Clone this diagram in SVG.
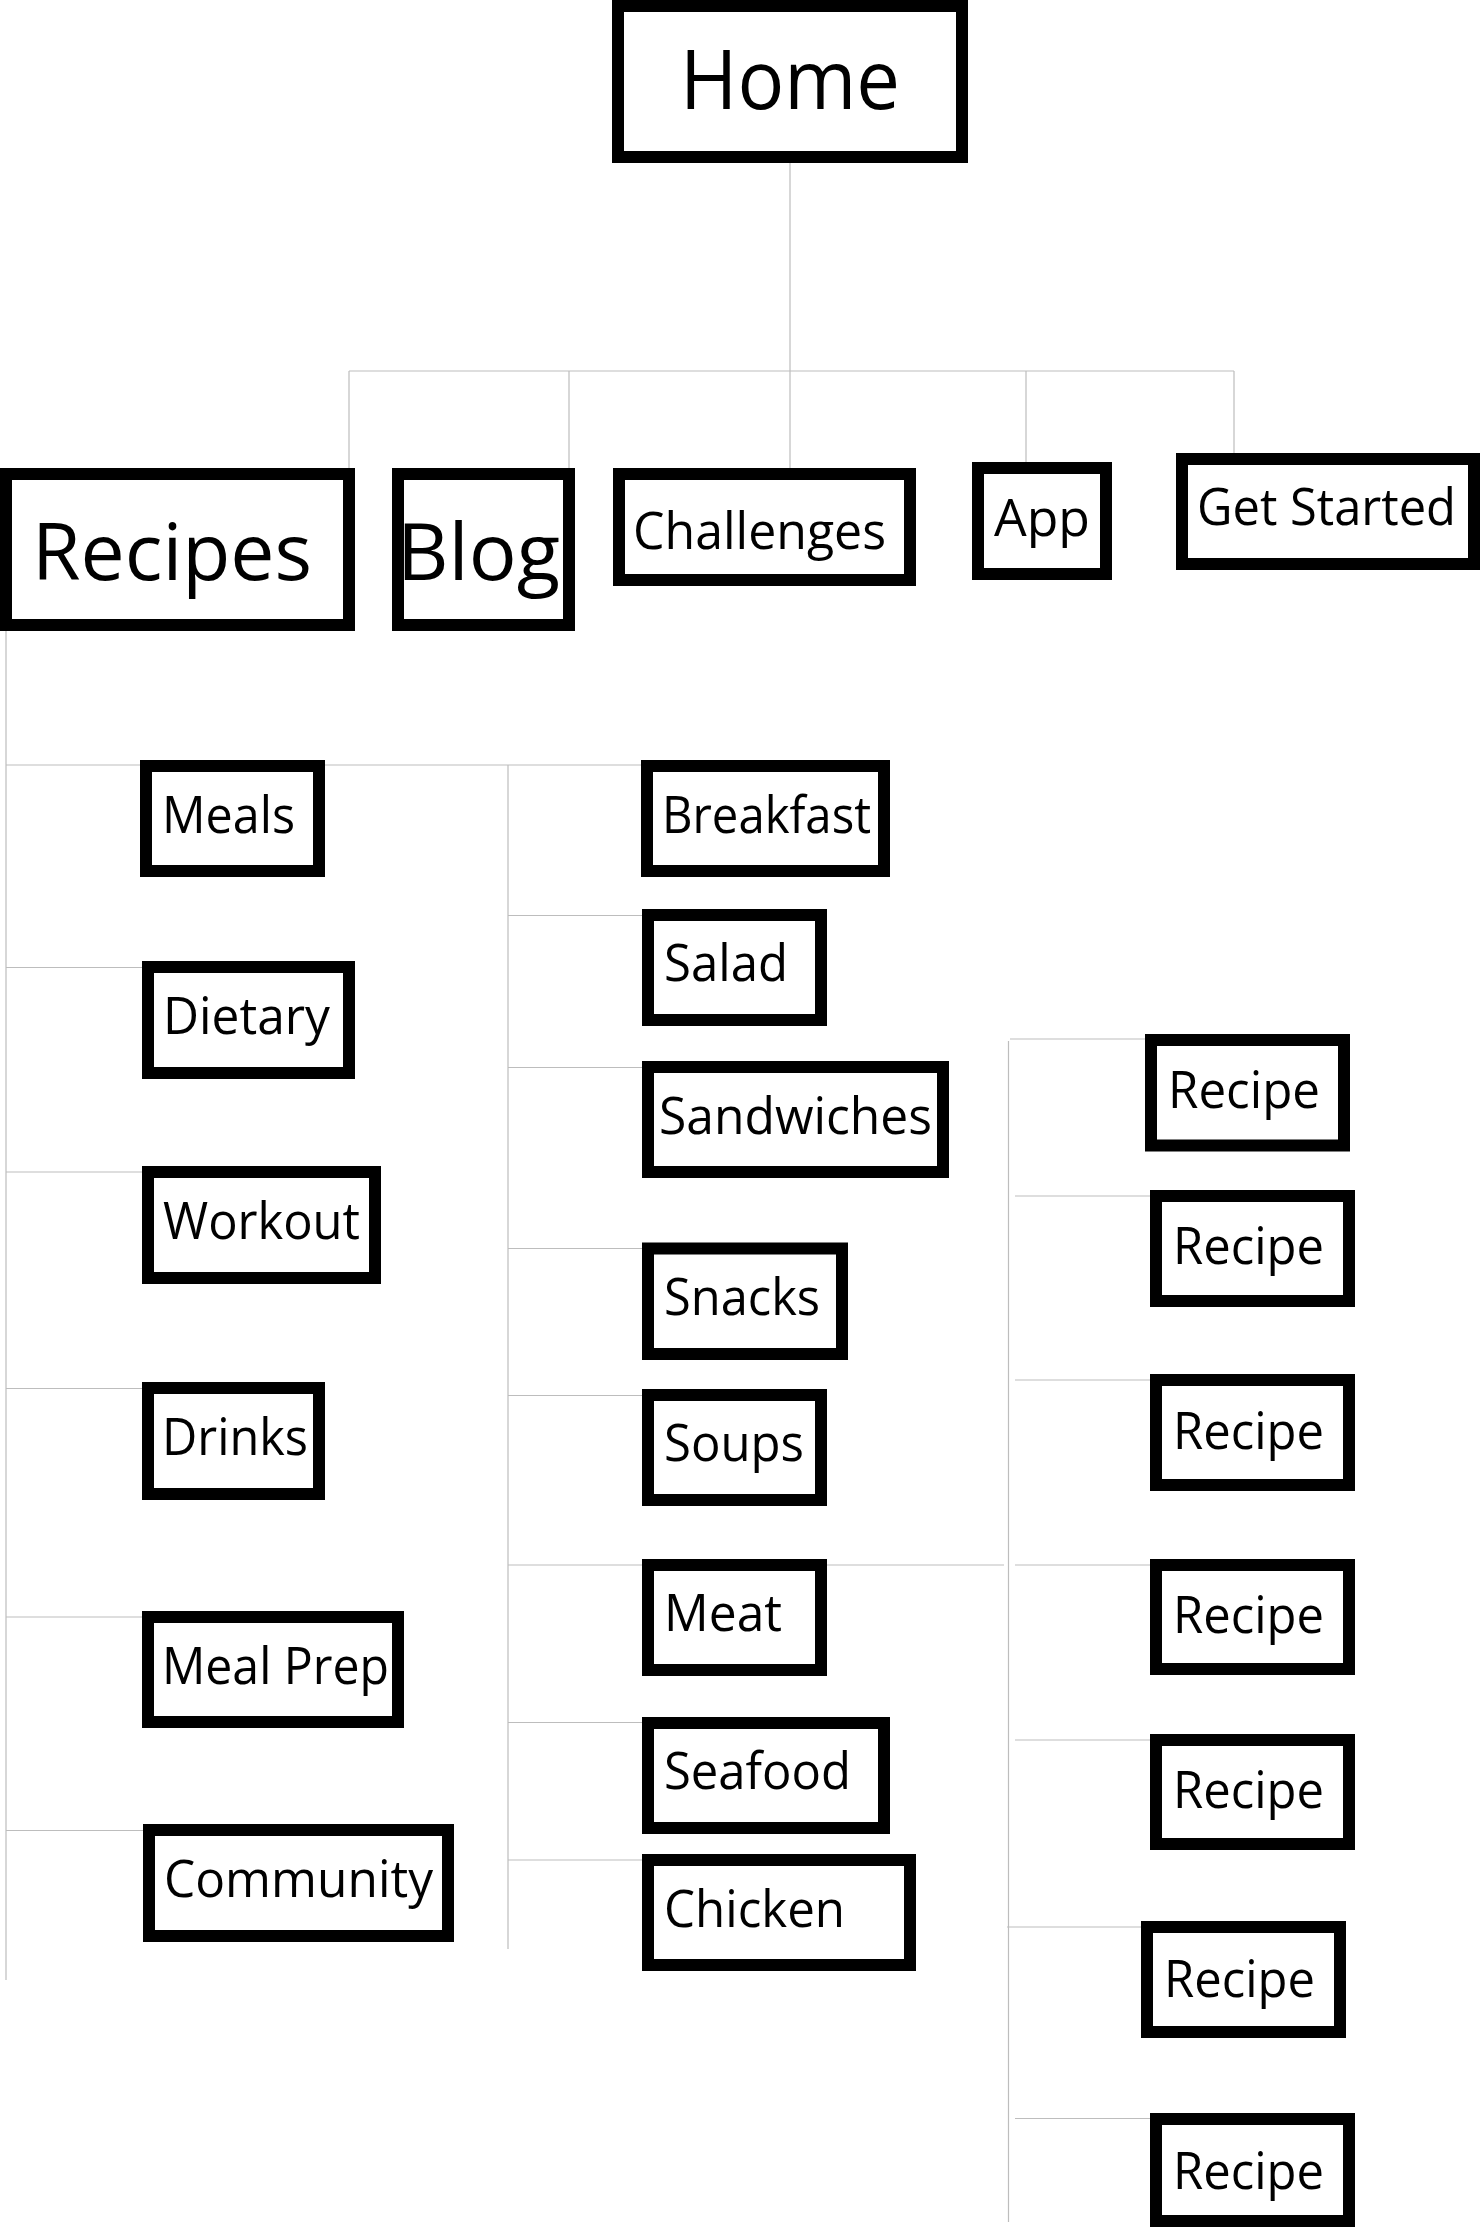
<svg xmlns="http://www.w3.org/2000/svg" width="1480" height="2231" viewBox="0 0 1480 2231">
<style>
.bg{fill:#fff}
.box{fill:#fff;stroke:#000;stroke-width:12}
.lbl{font-family:"Open Sans","Noto Sans","Liberation Sans",sans-serif;fill:#000}
.sm{font-size:52px}
.lg{font-size:78px}
.xl{font-size:82px}
#connectors line{stroke:#bdbdbd;stroke-width:1.2}
</style>
<rect class="bg" x="0" y="0" width="1480" height="2231"/>
<g id="connectors">
<line x1="790" y1="163" x2="790" y2="371"/>
<line x1="349" y1="371" x2="1234" y2="371"/>
<line x1="349" y1="371" x2="349" y2="468"/>
<line x1="569" y1="371" x2="569" y2="468"/>
<line x1="790" y1="371" x2="790" y2="468"/>
<line x1="1026" y1="371" x2="1026" y2="462"/>
<line x1="1234" y1="371" x2="1234" y2="453"/>
<line x1="6" y1="631" x2="6" y2="1980"/>
<line x1="6" y1="765" x2="641" y2="765"/>
<line x1="6" y1="967.5" x2="142" y2="967.5"/>
<line x1="6" y1="1172" x2="142" y2="1172"/>
<line x1="6" y1="1388.5" x2="142" y2="1388.5"/>
<line x1="6" y1="1617" x2="142" y2="1617"/>
<line x1="6" y1="1830.5" x2="143" y2="1830.5"/>
<line x1="508" y1="765" x2="508" y2="1949"/>
<line x1="508" y1="915.5" x2="642" y2="915.5"/>
<line x1="508" y1="1067.5" x2="642" y2="1067.5"/>
<line x1="508" y1="1248.5" x2="642" y2="1248.5"/>
<line x1="508" y1="1395.5" x2="642" y2="1395.5"/>
<line x1="508" y1="1565" x2="1004" y2="1565"/>
<line x1="508" y1="1722.5" x2="642" y2="1722.5"/>
<line x1="508" y1="1860" x2="642" y2="1860"/>
<line x1="1008.5" y1="1041" x2="1008.5" y2="2222"/>
<line x1="1010" y1="1039" x2="1145" y2="1039"/>
<line x1="1015" y1="1196" x2="1150" y2="1196"/>
<line x1="1015" y1="1380" x2="1150" y2="1380"/>
<line x1="1015" y1="1565" x2="1150" y2="1565"/>
<line x1="1015" y1="1740" x2="1150" y2="1740"/>
<line x1="1007" y1="1927" x2="1141" y2="1927"/>
<line x1="1015" y1="2118.5" x2="1150" y2="2118.5"/>
</g>
<g id="home"><rect class="box" x="618" y="6" width="344" height="151"/><text class="lbl xl" x="680" y="109" textLength="220" lengthAdjust="spacingAndGlyphs">Home</text></g>
<g id="recipes"><rect class="box" x="6" y="474" width="343" height="151"/><text class="lbl lg" x="32" y="580" textLength="280" lengthAdjust="spacingAndGlyphs">Recipes</text></g>
<g id="blog"><rect class="box" x="398" y="474" width="171" height="151"/><text class="lbl lg" x="397" y="580" textLength="163" lengthAdjust="spacingAndGlyphs">Blog</text></g>
<g id="challenges"><rect class="box" x="619" y="474" width="291" height="106"/><text class="lbl sm" x="633" y="549" textLength="253" lengthAdjust="spacingAndGlyphs">Challenges</text></g>
<g id="app"><rect class="box" x="978" y="468" width="128" height="106"/><text class="lbl sm" x="994" y="536" textLength="96" lengthAdjust="spacingAndGlyphs">App</text></g>
<g id="get-started"><rect class="box" x="1182" y="459" width="292" height="105"/><text class="lbl sm" x="1197" y="525" textLength="259" lengthAdjust="spacingAndGlyphs">Get Started</text></g>
<g id="meals"><rect class="box" x="146" y="766" width="173" height="105"/><text class="lbl sm" x="162" y="833" textLength="133" lengthAdjust="spacingAndGlyphs">Meals</text></g>
<g id="dietary"><rect class="box" x="148" y="967" width="201" height="106"/><text class="lbl sm" x="163" y="1034" textLength="167" lengthAdjust="spacingAndGlyphs">Dietary</text></g>
<g id="workout"><rect class="box" x="148" y="1172" width="227" height="106"/><text class="lbl sm" x="163" y="1239" textLength="197" lengthAdjust="spacingAndGlyphs">Workout</text></g>
<g id="drinks"><rect class="box" x="148" y="1388" width="171" height="106"/><text class="lbl sm" x="162" y="1455" textLength="146" lengthAdjust="spacingAndGlyphs">Drinks</text></g>
<g id="meal-prep"><rect class="box" x="148" y="1617" width="250" height="105"/><text class="lbl sm" x="162" y="1684" textLength="227" lengthAdjust="spacingAndGlyphs">Meal Prep</text></g>
<g id="community"><rect class="box" x="149" y="1830" width="299" height="106"/><text class="lbl sm" x="164" y="1897" textLength="269" lengthAdjust="spacingAndGlyphs">Community</text></g>
<g id="breakfast"><rect class="box" x="647" y="766" width="237" height="105"/><text class="lbl sm" x="662" y="833" textLength="209" lengthAdjust="spacingAndGlyphs">Breakfast</text></g>
<g id="salad"><rect class="box" x="648" y="915" width="173" height="105"/><text class="lbl sm" x="664" y="981" textLength="124" lengthAdjust="spacingAndGlyphs">Salad</text></g>
<g id="sandwiches"><rect class="box" x="648" y="1067" width="295" height="105"/><text class="lbl sm" x="659" y="1134" textLength="273" lengthAdjust="spacingAndGlyphs">Sandwiches</text></g>
<g id="snacks"><rect class="box" x="648" y="1248.5" width="194" height="105.5"/><text class="lbl sm" x="664" y="1315" textLength="156" lengthAdjust="spacingAndGlyphs">Snacks</text></g>
<g id="soups"><rect class="box" x="648" y="1395" width="173" height="105"/><text class="lbl sm" x="664" y="1461" textLength="140" lengthAdjust="spacingAndGlyphs">Soups</text></g>
<g id="meat"><rect class="box" x="648" y="1565" width="173" height="105"/><text class="lbl sm" x="664" y="1631" textLength="118" lengthAdjust="spacingAndGlyphs">Meat</text></g>
<g id="seafood"><rect class="box" x="648" y="1723" width="236" height="105"/><text class="lbl sm" x="664" y="1789" textLength="187" lengthAdjust="spacingAndGlyphs">Seafood</text></g>
<g id="chicken"><rect class="box" x="648" y="1860" width="262" height="105"/><text class="lbl sm" x="664" y="1927" textLength="181" lengthAdjust="spacingAndGlyphs">Chicken</text></g>
<g id="recipe-1"><rect class="box" x="1151" y="1040" width="193" height="105.5"/><text class="lbl sm" x="1168" y="1108" textLength="152" lengthAdjust="spacingAndGlyphs">Recipe</text></g>
<g id="recipe-2"><rect class="box" x="1156" y="1196" width="193" height="105"/><text class="lbl sm" x="1173" y="1264" textLength="151" lengthAdjust="spacingAndGlyphs">Recipe</text></g>
<g id="recipe-3"><rect class="box" x="1156" y="1380" width="193" height="105"/><text class="lbl sm" x="1173" y="1449" textLength="151" lengthAdjust="spacingAndGlyphs">Recipe</text></g>
<g id="recipe-4"><rect class="box" x="1156" y="1565" width="193" height="104"/><text class="lbl sm" x="1173" y="1633" textLength="151" lengthAdjust="spacingAndGlyphs">Recipe</text></g>
<g id="recipe-5"><rect class="box" x="1156" y="1740" width="193" height="104"/><text class="lbl sm" x="1173" y="1808" textLength="151" lengthAdjust="spacingAndGlyphs">Recipe</text></g>
<g id="recipe-6"><rect class="box" x="1147" y="1927" width="193" height="105"/><text class="lbl sm" x="1164" y="1997" textLength="151" lengthAdjust="spacingAndGlyphs">Recipe</text></g>
<g id="recipe-7"><rect class="box" x="1156" y="2119" width="193" height="102"/><text class="lbl sm" x="1173" y="2189" textLength="151" lengthAdjust="spacingAndGlyphs">Recipe</text></g>
</svg>
